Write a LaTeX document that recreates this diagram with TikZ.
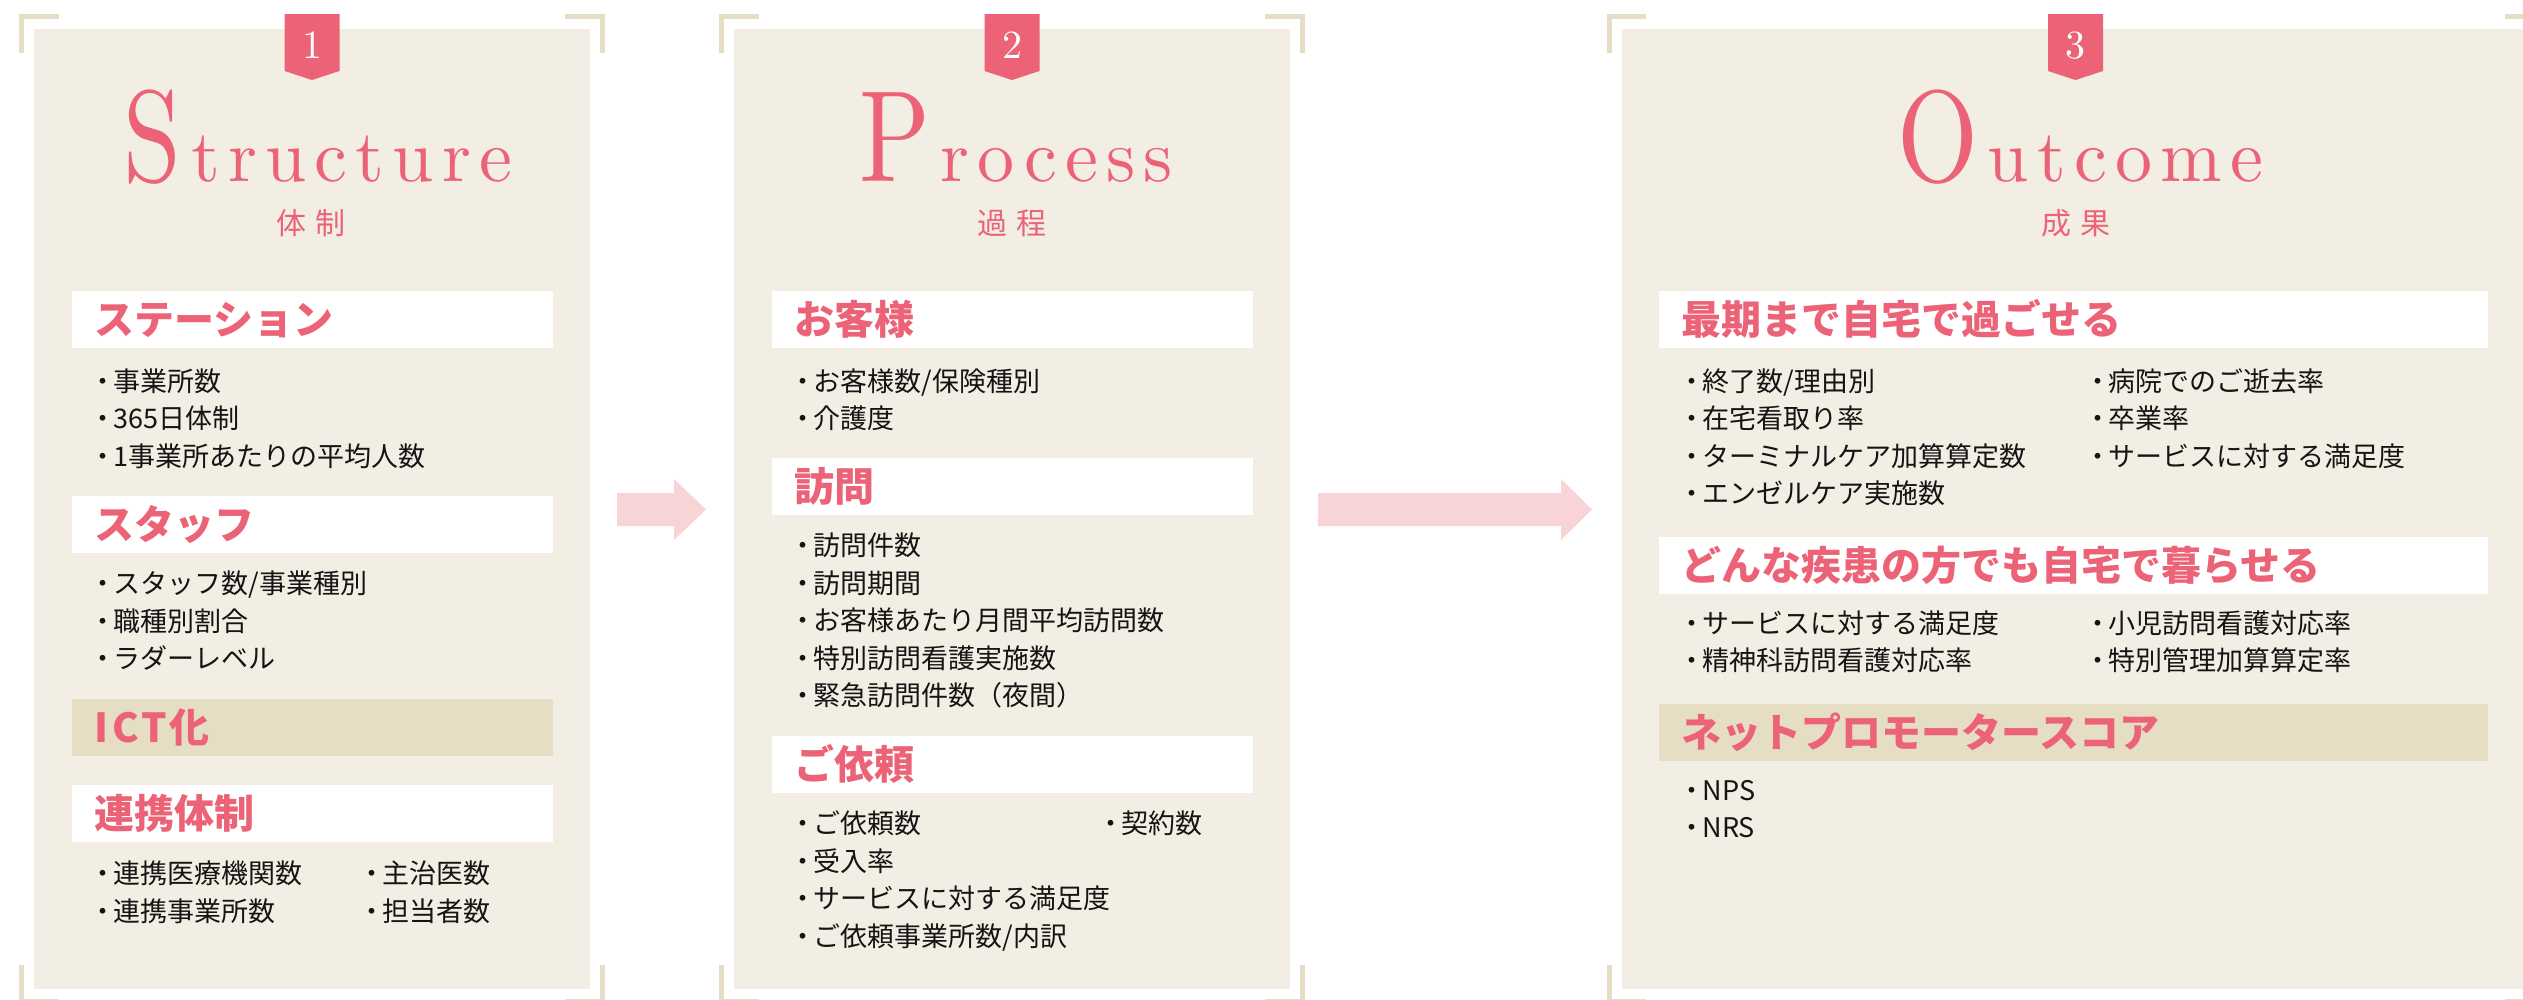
\documentclass[tikz,border=0pt]{standalone}
\usepackage{fontspec}
\newfontfamily\jp{Noto Sans CJK JP}
\newfontfamily\ttl{lmroman10-regular.otf}[LetterSpace=11]
\newfontfamily\ttlb{lmroman10-regular.otf}
\definecolor{pinkc}{RGB}{236,99,119}
\definecolor{panelbg}{RGB}{242,238,227}
\definecolor{beigec}{RGB}{229,221,196}
\definecolor{arrowc}{RGB}{249,212,214}
\definecolor{txtc}{RGB}{20,20,20}
\tikzset{
 panelbox/.style={fill=panelbg, draw=none, anchor=north west, inner sep=0pt, outer sep=0pt},
 bracket/.style={draw=beigec, line width=4.7pt, line join=miter, line cap=butt},
 badgefill/.style={fill=pinkc},
 badgenum/.style={text=white, font=\ttlb\fontsize{40}{40}\selectfont, anchor=base, inner sep=0pt},
 hdrwhite/.style={fill=white, anchor=west, inner sep=0pt, outer sep=0pt, minimum height=57pt},
 hdrbeige/.style={fill=beigec, anchor=west, inner sep=0pt, outer sep=0pt, minimum height=57pt},
 hdrtext/.style={text=pinkc, font=\jp\fontsize{40}{40}\selectfont\bfseries, anchor=west, inner sep=0pt, text height=35.2pt, text depth=4.8pt},
 itemtext/.style={text=txtc, font=\jp\fontsize{27}{27}\selectfont, anchor=west, inner sep=0pt, text height=23.8pt, text depth=3.2pt},
 bigtitle/.style={text=pinkc, anchor=base, inner sep=0pt},
 subtitle/.style={text=pinkc, font=\jp\fontsize{30}{30}\selectfont, inner sep=0pt, text height=26.4pt, text depth=3.6pt},
 blockarrow/.style={fill=arrowc, draw=none},
}
\newcommand\brk[4]{%
 \draw[bracket] ({#1-15.2+39.5},{#2-15+2.35}) -- ({#1-15.2+2.35},{#2-15+2.35}) -- ({#1-15.2+2.35},{#2-15+39});
 \draw[bracket] ({#3+15.2-39.5},{#2-15+2.35}) -- ({#3+15.2-2.35},{#2-15+2.35}) -- ({#3+15.2-2.35},{#2-15+39});
 \draw[bracket] ({#1-15.2+39.5},{#4+15-2.35}) -- ({#1-15.2+2.35},{#4+15-2.35}) -- ({#1-15.2+2.35},{#4+15-39});
 \draw[bracket] ({#3+15.2-39.5},{#4+15-2.35}) -- ({#3+15.2-2.35},{#4+15-2.35}) -- ({#3+15.2-2.35},{#4+15-39});
}
\newcommand\badge[3]{%
 \fill[badgefill] ({#2-27.5},14) -- ({#2+27.5},14) -- ({#2+27.5},71) -- (#2,80) -- ({#2-27.5},71) -- cycle;
 \node[badgenum] (#1) at (#2,58.3) {#3};}
\newcommand\itm[4]{\node[itemtext] (#1) at (#2,#3) {・\kern-3pt #4};}
\newcommand\hdr[6]{\node[#2, minimum width=#5pt] (#1box) at (#3,#4) {};
 \node[hdrtext] (#1) at ({#3+22},#4) {#6};}
\begin{document}
\begin{tikzpicture}[x=1pt,y=-1pt]
\path[use as bounding box] (0,0) rectangle (2523,999);
\clip (0,0) rectangle (2523,999);
\fill[white] (0,0) rectangle (2523,999);
% panels
\node[panelbox, minimum width=555.2pt, minimum height=960pt] (P1) at (34.4,29) {};
\node[panelbox, minimum width=555.2pt, minimum height=960pt] (P2) at (734.4,29) {};
\node[panelbox, minimum width=907pt, minimum height=960pt] (P3) at (1622,29) {};
\brk{34.4}{29}{589.6}{989}
\brk{734.4}{29}{1289.6}{989}
\brk{1622}{29}{2529}{989}
\badge{n1}{312}{1}
\badge{n2}{1012}{2}
\badge{n3}{2075.5}{3}
% titles
\node[bigtitle] (t1) at (318,181) {\scalebox{0.8}[1]{\ttlb\fontsize{130}{130}\selectfont S}\hspace{10pt}{\ttl\fontsize{74}{74}\selectfont tructure}};
\node[bigtitle] (t2) at (1016,181) {\scalebox{0.8}[1]{\ttlb\fontsize{130}{130}\selectfont P}\hspace{10pt}{\ttl\fontsize{74}{74}\selectfont rocess}};
\node[bigtitle] (t3) at (2080,181) {\scalebox{0.8}[1]{\ttlb\fontsize{130}{130}\selectfont O}\hspace{10pt}{\ttl\fontsize{74}{74}\selectfont utcome}};
\node[subtitle] (u1) at (311,223.5) {体\hspace{9pt}制};
\node[subtitle] (u2) at (1012,223.5) {過\hspace{9pt}程};
\node[subtitle] (u3) at (2076,223.5) {成\hspace{9pt}果};
% arrows
\fill[blockarrow] (617,493) -- (674,493) -- (674,479) -- (706,509.5) -- (674,540) -- (674,526) -- (617,526) -- cycle;
\fill[blockarrow] (1318,493) -- (1561,493) -- (1561,479) -- (1592,509.5) -- (1561,540) -- (1561,526) -- (1318,526) -- cycle;
% panel 1
\hdr{h11}{hdrwhite}{72}{319.5}{481}{ステーション}
\itm{i11}{89.5}{381}{事業所数}
\itm{i12}{89.5}{418.5}{365日体制}
\itm{i13}{89.5}{456}{1事業所あたりの平均人数}
\hdr{h12}{hdrwhite}{72}{524.5}{481}{スタッフ}
\itm{i14}{89.5}{583.5}{スタッフ数/事業種別}
\itm{i15}{89.5}{621}{職種別割合}
\itm{i16}{89.5}{658.5}{ラダーレベル}
\hdr{h13}{hdrbeige}{72}{727.5}{481}{I\hspace{4pt}C\hspace{3pt}T\hspace{2pt}化}
\hdr{h14}{hdrwhite}{72}{813.5}{481}{連携体制}
\itm{i17}{89.5}{873}{連携医療機関数}
\itm{i18}{358.5}{873}{主治医数}
\itm{i19}{89.5}{911}{連携事業所数}
\itm{i1a}{358.5}{911}{担当者数}
% panel 2
\hdr{h21}{hdrwhite}{772}{319.5}{481}{お客様}
\itm{i21}{789.5}{381}{お客様数/保険種別}
\itm{i22}{789.5}{418.5}{介護度}
\hdr{h22}{hdrwhite}{772}{486.5}{481}{訪問}
\itm{i23}{789.5}{545.5}{訪問件数}
\itm{i24}{789.5}{583}{訪問期間}
\itm{i25}{789.5}{620.5}{お客様あたり月間平均訪問数}
\itm{i26}{789.5}{658}{特別訪問看護実施数}
\itm{i27}{789.5}{695.5}{緊急訪問件数（夜間）}
\hdr{h23}{hdrwhite}{772}{764.5}{481}{ご依頼}
\itm{i28}{789.5}{823.5}{ご依頼数}
\itm{i29}{1097.5}{823.5}{契約数}
\itm{i2a}{789.5}{861}{受入率}
\itm{i2b}{789.5}{898.5}{サービスに対する満足度}
\itm{i2c}{789.5}{936}{ご依頼事業所数/内訳}
% panel 3
\hdr{h31}{hdrwhite}{1659}{319.5}{829}{最期まで自宅で過ごせる}
\itm{i31}{1678.5}{381.5}{終了数/理由別}
\itm{i32}{2084.5}{381.5}{病院でのご逝去率}
\itm{i33}{1678.5}{418.5}{在宅看取り率}
\itm{i34}{2084.5}{418.5}{卒業率}
\itm{i35}{1678.5}{456}{ターミナルケア加算算定数}
\itm{i36}{2084.5}{456}{サービスに対する満足度}
\itm{i37}{1678.5}{493.5}{エンゼルケア実施数}
\hdr{h32}{hdrwhite}{1659}{565}{829}{どんな疾患の方でも自宅で暮らせる}
\itm{i38}{1678.5}{623}{サービスに対する満足度}
\itm{i39}{2084.5}{623}{小児訪問看護対応率}
\itm{i3a}{1678.5}{660.5}{精神科訪問看護対応率}
\itm{i3b}{2084.5}{660.5}{特別管理加算算定率}
\hdr{h33}{hdrbeige}{1659}{732.5}{829}{ネットプロモータースコア}
\itm{i3c}{1678.5}{790}{NPS}
\itm{i3d}{1678.5}{827}{NRS}
\end{tikzpicture}
\end{document}
